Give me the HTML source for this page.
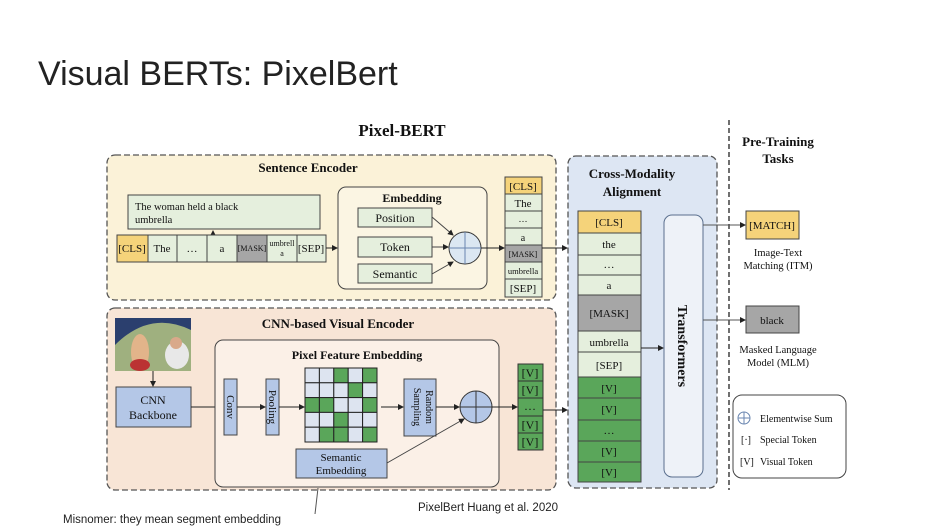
<!DOCTYPE html>
<html><head><meta charset="utf-8"><style>
html,body{margin:0;padding:0;background:#fff;}
svg{display:block;}
.s{font-family:"Liberation Serif",serif;fill:#111;}
.a{font-family:"Liberation Sans",sans-serif;fill:#222;}
</style></head><body>
<svg width="951" height="530" viewBox="0 0 951 530" xmlns="http://www.w3.org/2000/svg">
<defs><marker id="ar" markerWidth="6" markerHeight="6" refX="5" refY="3" orient="auto"><path d="M0,0 L6,3 L0,6 z" fill="#222"/></marker></defs>
<text x="38" y="85" class="a" font-size="34" fill="#111">Visual BERTs: PixelBert</text>
<text x="402" y="136" class="s" font-size="17" font-weight="bold" text-anchor="middle">Pixel-BERT</text>

<!-- Sentence encoder -->
<rect x="107" y="155" width="449" height="145" rx="8" fill="#fbf2d8" stroke="#555" stroke-dasharray="6,3" stroke-width="1.3"/>
<text x="308" y="172" class="s" font-size="13" font-weight="bold" text-anchor="middle">Sentence Encoder</text>
<rect x="128" y="195" width="192" height="34" fill="#e5efdd" stroke="#444"/>
<text x="135" y="210" class="s" font-size="10.5">The woman held a black</text>
<text x="135" y="223" class="s" font-size="10.5">umbrella</text>
<line x1="213" y1="235" x2="213" y2="231" stroke="#222" marker-end="url(#ar)"/>
<g stroke="#444" font-size="11">
<rect x="117" y="235" width="31" height="27" fill="#f5d37a"/>
<rect x="148" y="235" width="29" height="27" fill="#e5efdd"/>
<rect x="177" y="235" width="30" height="27" fill="#e5efdd"/>
<rect x="207" y="235" width="30" height="27" fill="#e5efdd"/>
<rect x="237" y="235" width="30" height="27" fill="#a6a6a6"/>
<rect x="267" y="235" width="30" height="27" fill="#e5efdd"/>
<rect x="297" y="235" width="29" height="27" fill="#e5efdd"/>
</g>
<text x="132" y="252" class="s" font-size="11" text-anchor="middle">[CLS]</text>
<text x="162" y="252" class="s" font-size="11" text-anchor="middle">The</text>
<text x="192" y="252" class="s" font-size="11" text-anchor="middle">…</text>
<text x="222" y="252" class="s" font-size="11" text-anchor="middle">a</text>
<text x="252" y="251" class="s" font-size="8" text-anchor="middle">[MASK]</text>
<text x="282" y="246" class="s" font-size="8" text-anchor="middle">umbrell</text>
<text x="282" y="256" class="s" font-size="8" text-anchor="middle">a</text>
<text x="311" y="252" class="s" font-size="11" text-anchor="middle">[SEP]</text>
<line x1="326" y1="248" x2="337" y2="248" stroke="#222" marker-end="url(#ar)"/>
<rect x="338" y="187" width="149" height="102" rx="8" fill="#fbf5e3" stroke="#444"/>
<text x="412" y="202" class="s" font-size="12" font-weight="bold" text-anchor="middle">Embedding</text>
<rect x="358" y="208" width="74" height="19" fill="#e5efdd" stroke="#444"/>
<rect x="358" y="237" width="74" height="20" fill="#e5efdd" stroke="#444"/>
<rect x="358" y="264" width="74" height="19" fill="#e5efdd" stroke="#444"/>
<text x="395" y="222" class="s" font-size="12" text-anchor="middle">Position</text>
<text x="395" y="251" class="s" font-size="12" text-anchor="middle">Token</text>
<text x="395" y="278" class="s" font-size="12" text-anchor="middle">Semantic</text>
<line x1="432" y1="217" x2="453" y2="235" stroke="#444" marker-end="url(#ar)"/>
<line x1="432" y1="247" x2="448" y2="247" stroke="#444" marker-end="url(#ar)"/>
<line x1="432" y1="274" x2="453" y2="262" stroke="#444" marker-end="url(#ar)"/>
<circle cx="465" cy="248" r="16" fill="#dbe7f2" stroke="#333"/>
<line x1="449" y1="248" x2="481" y2="248" stroke="#6a86b0"/><line x1="465" y1="232" x2="465" y2="264" stroke="#6a86b0"/>
<line x1="481" y1="248" x2="504" y2="248" stroke="#222" marker-end="url(#ar)"/>
<g stroke="#444">
<rect x="505" y="177" width="37" height="17" fill="#f5d37a"/>
<rect x="505" y="194" width="37" height="17" fill="#e5efdd"/>
<rect x="505" y="211" width="37" height="17" fill="#e5efdd"/>
<rect x="505" y="228" width="37" height="17" fill="#e5efdd"/>
<rect x="505" y="245" width="37" height="17" fill="#a6a6a6"/>
<rect x="505" y="262" width="37" height="17" fill="#e5efdd"/>
<rect x="505" y="279" width="37" height="18" fill="#e5efdd"/>
</g>
<g class="s" text-anchor="middle">
<text x="523" y="190" font-size="11">[CLS]</text>
<text x="523" y="207" font-size="11">The</text>
<text x="523" y="222" font-size="9">…</text>
<text x="523" y="241" font-size="10">a</text>
<text x="523" y="257" font-size="8">[MASK]</text>
<text x="523" y="274" font-size="8.5">umbrella</text>
<text x="523" y="292" font-size="11">[SEP]</text>
</g>
<line x1="542" y1="248" x2="567" y2="248" stroke="#222" marker-end="url(#ar)"/>

<!-- Visual encoder -->
<rect x="107" y="308" width="449" height="182" rx="8" fill="#f8e5d6" stroke="#555" stroke-dasharray="6,3" stroke-width="1.3"/>
<text x="338" y="328" class="s" font-size="13" font-weight="bold" text-anchor="middle">CNN-based Visual Encoder</text>
<rect x="115" y="318" width="76" height="53" fill="#9fb07f"/>
<path d="M115,345 Q150,310 191,330 L191,318 L115,318 z" fill="#2b3f6e"/>
<ellipse cx="140" cy="352" rx="9" ry="18" fill="#e2b48a"/>
<ellipse cx="140" cy="365" rx="10" ry="6" fill="#b33"/>
<ellipse cx="177" cy="355" rx="12" ry="14" fill="#e8e8e8"/>
<circle cx="176" cy="343" r="6" fill="#d9a98a"/>
<line x1="153" y1="371" x2="153" y2="386" stroke="#222" marker-end="url(#ar)"/>
<rect x="116" y="387" width="75" height="40" fill="#b4c7e7" stroke="#444"/>
<text x="153" y="404" class="s" font-size="12" text-anchor="middle">CNN</text>
<text x="153" y="419" class="s" font-size="12" text-anchor="middle">Backbone</text>
<line x1="191" y1="407" x2="223" y2="407" stroke="#222" marker-end="url(#ar)"/>
<rect x="215" y="340" width="284" height="147" rx="8" fill="#fbf0e7" stroke="#444"/>
<text x="357" y="359" class="s" font-size="12" font-weight="bold" text-anchor="middle">Pixel Feature Embedding</text>
<rect x="224" y="379" width="13" height="56" fill="#b4c7e7" stroke="#444"/>
<text transform="translate(227,407) rotate(90)" class="s" font-size="11" text-anchor="middle">Conv</text>
<line x1="237" y1="407" x2="265" y2="407" stroke="#222" marker-end="url(#ar)"/>
<rect x="266" y="379" width="13" height="56" fill="#b4c7e7" stroke="#444"/>
<text transform="translate(269,407) rotate(90)" class="s" font-size="11" text-anchor="middle">Pooling</text>
<line x1="279" y1="407" x2="304" y2="407" stroke="#222" marker-end="url(#ar)"/>
<g stroke="#222" stroke-width="1">
<rect x="305" y="368" width="14.4" height="14.8" fill="#dde4f0"/><rect x="319.4" y="368" width="14.4" height="14.8" fill="#dde4f0"/><rect x="333.8" y="368" width="14.4" height="14.8" fill="#5aa65a"/><rect x="348.2" y="368" width="14.4" height="14.8" fill="#dde4f0"/><rect x="362.6" y="368" width="14.4" height="14.8" fill="#5aa65a"/>
<rect x="305" y="382.8" width="14.4" height="14.8" fill="#dde4f0"/><rect x="319.4" y="382.8" width="14.4" height="14.8" fill="#dde4f0"/><rect x="333.8" y="382.8" width="14.4" height="14.8" fill="#dde4f0"/><rect x="348.2" y="382.8" width="14.4" height="14.8" fill="#5aa65a"/><rect x="362.6" y="382.8" width="14.4" height="14.8" fill="#dde4f0"/>
<rect x="305" y="397.6" width="14.4" height="14.8" fill="#5aa65a"/><rect x="319.4" y="397.6" width="14.4" height="14.8" fill="#5aa65a"/><rect x="333.8" y="397.6" width="14.4" height="14.8" fill="#dde4f0"/><rect x="348.2" y="397.6" width="14.4" height="14.8" fill="#dde4f0"/><rect x="362.6" y="397.6" width="14.4" height="14.8" fill="#5aa65a"/>
<rect x="305" y="412.4" width="14.4" height="14.8" fill="#dde4f0"/><rect x="319.4" y="412.4" width="14.4" height="14.8" fill="#dde4f0"/><rect x="333.8" y="412.4" width="14.4" height="14.8" fill="#5aa65a"/><rect x="348.2" y="412.4" width="14.4" height="14.8" fill="#dde4f0"/><rect x="362.6" y="412.4" width="14.4" height="14.8" fill="#dde4f0"/>
<rect x="305" y="427.2" width="14.4" height="14.8" fill="#dde4f0"/><rect x="319.4" y="427.2" width="14.4" height="14.8" fill="#5aa65a"/><rect x="333.8" y="427.2" width="14.4" height="14.8" fill="#5aa65a"/><rect x="348.2" y="427.2" width="14.4" height="14.8" fill="#dde4f0"/><rect x="362.6" y="427.2" width="14.4" height="14.8" fill="#5aa65a"/>
</g>
<line x1="381" y1="407" x2="403" y2="407" stroke="#222" marker-end="url(#ar)"/>
<rect x="404" y="379" width="32" height="57" fill="#b4c7e7" stroke="#444"/>
<text transform="translate(426,407) rotate(90)" class="s" font-size="10" text-anchor="middle">Random</text>
<text transform="translate(414,407) rotate(90)" class="s" font-size="10" text-anchor="middle">Sampling</text>
<line x1="436" y1="407" x2="459" y2="407" stroke="#222" marker-end="url(#ar)"/>
<circle cx="476" cy="407" r="16" fill="#b4c7e7" stroke="#333"/>
<line x1="460" y1="407" x2="492" y2="407" stroke="#333"/><line x1="476" y1="391" x2="476" y2="423" stroke="#333"/>
<rect x="296" y="449" width="91" height="29" fill="#b4c7e7" stroke="#444"/>
<text x="341" y="461" class="s" font-size="11" text-anchor="middle">Semantic</text>
<text x="341" y="474" class="s" font-size="11" text-anchor="middle">Embedding</text>
<line x1="387" y1="463" x2="464" y2="419" stroke="#444" marker-end="url(#ar)"/>
<line x1="492" y1="407" x2="517" y2="407" stroke="#222" marker-end="url(#ar)"/>
<g stroke="#333">
<rect x="518" y="364" width="25" height="17" fill="#5aa65a"/><rect x="518" y="381" width="25" height="17" fill="#5aa65a"/><rect x="518" y="398" width="25" height="18" fill="#5aa65a"/><rect x="518" y="416" width="25" height="17" fill="#5aa65a"/><rect x="518" y="433" width="25" height="17" fill="#5aa65a"/>
</g>
<g class="s" font-size="12" text-anchor="middle">
<text x="530" y="377">[V]</text><text x="530" y="394">[V]</text><text x="530" y="410">…</text><text x="530" y="429">[V]</text><text x="530" y="446">[V]</text>
</g>
<line x1="543" y1="410" x2="567" y2="410" stroke="#222" marker-end="url(#ar)"/>

<!-- Cross modality -->
<rect x="568" y="156" width="149" height="332" rx="8" fill="#dde6f3" stroke="#555" stroke-dasharray="6,3" stroke-width="1.3"/>
<text x="632" y="178" class="s" font-size="13" font-weight="bold" text-anchor="middle">Cross-Modality</text>
<text x="632" y="196" class="s" font-size="13" font-weight="bold" text-anchor="middle">Alignment</text>
<g stroke="#444">
<rect x="578" y="211" width="63" height="22" fill="#f5d37a"/>
<rect x="578" y="233" width="63" height="22" fill="#e5efdd"/>
<rect x="578" y="255" width="63" height="20" fill="#e5efdd"/>
<rect x="578" y="275" width="63" height="20" fill="#e5efdd"/>
<rect x="578" y="295" width="63" height="36" fill="#a6a6a6"/>
<rect x="578" y="331" width="63" height="21" fill="#e5efdd"/>
<rect x="578" y="352" width="63" height="25" fill="#e5efdd"/>
<rect x="578" y="377" width="63" height="21" fill="#5aa65a"/>
<rect x="578" y="398" width="63" height="22" fill="#5aa65a"/>
<rect x="578" y="420" width="63" height="21" fill="#5aa65a"/>
<rect x="578" y="441" width="63" height="21" fill="#5aa65a"/>
<rect x="578" y="462" width="63" height="20" fill="#5aa65a"/>
</g>
<g class="s" font-size="11" text-anchor="middle">
<text x="609" y="226">[CLS]</text><text x="609" y="248">the</text><text x="609" y="268">…</text><text x="609" y="289">a</text>
<text x="609" y="317">[MASK]</text><text x="609" y="346">umbrella</text><text x="609" y="369">[SEP]</text>
<text x="609" y="392">[V]</text><text x="609" y="413">[V]</text><text x="609" y="434">…</text><text x="609" y="455">[V]</text><text x="609" y="476">[V]</text>
</g>
<line x1="641" y1="348" x2="663" y2="348" stroke="#222" marker-end="url(#ar)"/>
<rect x="664" y="215" width="39" height="262" rx="8" fill="#eef2f8" stroke="#5a6f8e"/>
<text transform="translate(678,346) rotate(90)" class="s" font-size="14" font-weight="bold" text-anchor="middle">Transformers</text>
<line x1="729" y1="120" x2="729" y2="490" stroke="#222" stroke-dasharray="5,3" stroke-width="1.3"/>
<text x="778" y="146" class="s" font-size="13" font-weight="bold" text-anchor="middle">Pre-Training</text>
<text x="778" y="163" class="s" font-size="13" font-weight="bold" text-anchor="middle">Tasks</text>
<line x1="703" y1="225" x2="745" y2="225" stroke="#555" marker-end="url(#ar)"/>
<rect x="746" y="211" width="53" height="28" fill="#f5d37a" stroke="#444"/>
<text x="772" y="229" class="s" font-size="11" text-anchor="middle">[MATCH]</text>
<text x="778" y="256" class="s" font-size="10.5" text-anchor="middle">Image-Text</text>
<text x="778" y="269" class="s" font-size="10.5" text-anchor="middle">Matching (ITM)</text>
<line x1="703" y1="320" x2="745" y2="320" stroke="#555" marker-end="url(#ar)"/>
<rect x="746" y="306" width="53" height="27" fill="#a6a6a6" stroke="#444"/>
<text x="772" y="324" class="s" font-size="11" text-anchor="middle">black</text>
<text x="778" y="353" class="s" font-size="10.5" text-anchor="middle">Masked Language</text>
<text x="778" y="366" class="s" font-size="10.5" text-anchor="middle">Model (MLM)</text>
<rect x="733" y="395" width="113" height="83" rx="9" fill="#fff" stroke="#444"/>
<circle cx="744" cy="418" r="6" fill="none" stroke="#6a86b0"/>
<line x1="738" y1="418" x2="750" y2="418" stroke="#6a86b0"/><line x1="744" y1="412" x2="744" y2="424" stroke="#6a86b0"/>
<text x="760" y="422" class="s" font-size="10">Elementwise Sum</text>
<text x="741" y="443" class="s" font-size="10">[·]</text>
<text x="760" y="443" class="s" font-size="10">Special Token</text>
<text x="740" y="465" class="s" font-size="10">[V]</text>
<text x="760" y="465" class="s" font-size="10">Visual Token</text>

<!-- annotations -->
<line x1="318" y1="488" x2="315" y2="514" stroke="#555"/>
<text x="63" y="523" class="a" font-size="11.5">Misnomer: they mean segment embedding</text>
<text x="418" y="511" class="a" font-size="11.5">PixelBert Huang et al. 2020</text>
</svg>
</body></html>
